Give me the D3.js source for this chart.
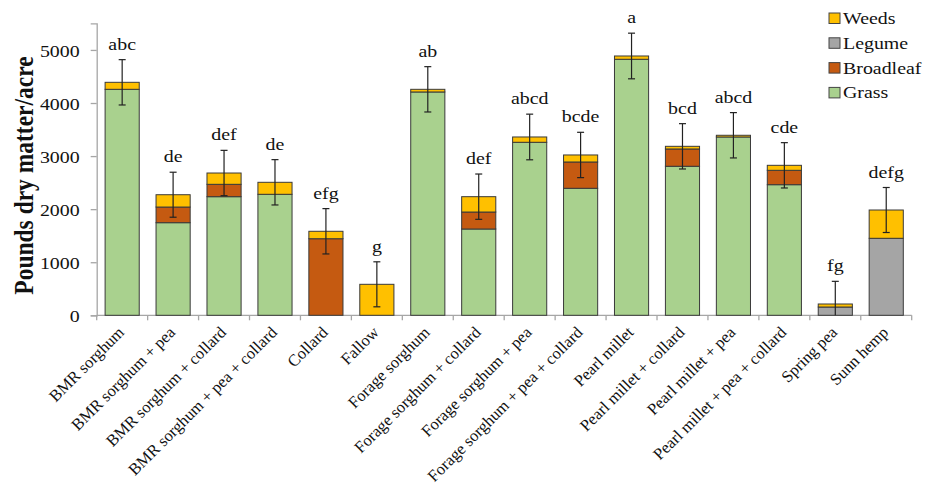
<!DOCTYPE html>
<html>
<head>
<meta charset="utf-8">
<script src="https://cdn.jsdelivr.net/npm/d3@7"></script>
<style>
  html, body { margin: 0; padding: 0; background: #fff; }
  svg { display: block; }
</style>
</head>
<body>
<svg id="chart" width="926" height="487"></svg>
<script>
// Cover-crop treatments
const categories = [
  "BMR sorghum", "BMR sorghum + pea", "BMR sorghum + collard", "BMR sorghum + pea + collard",
  "Collard", "Fallow", "Forage sorghum", "Forage sorghum + collard",
  "Forage sorghum + pea", "Forage sorghum + pea + collard", "Pearl millet", "Pearl millet + collard",
  "Pearl millet + pea", "Pearl millet + pea + collard", "Spring pea", "Sunn hemp"
];
// Dry matter by component (lb/acre)
const grass     = [4258, 1745, 2235, 2280,    0,   0, 4208, 1626, 3260, 2393, 4824, 2808, 3360, 2461,   0,    0];
const broadleaf = [   0,  295,  233,    0, 1443,   0,    0,  320,    0,  496,    0,  326,    0,  271,   0,    0];
const legume    = [   0,    0,    0,    0,    0,   0,    0,    0,    0,    0,    0,    0,    0,    0, 156, 1451];
const weeds     = [ 132,  232,  213,  226,  140, 584,   50,  289,  100,  132,   62,   50,   32,   94,  57,  533];
// Standard error of total dry matter
const errors    = [ 427,  424,  427,  427,  427, 424,  427,  427,  430,  427,  430,  427,  427,  427, 427,  424];
// Mean separation letters
const letters   = ["abc", "de", "def", "de", "efg", "g", "ab", "def", "abcd", "bcde", "a", "bcd", "abcd", "cde", "fg", "defg"];
const yTicks    = [0, 1000, 2000, 3000, 4000, 5000];

const seriesNames  = ["Grass", "Broadleaf", "Legume", "Weeds"];
const seriesColors = ["#a9d18e", "#c55a11", "#a5a5a5", "#ffc000"];
const seriesValues = [grass, broadleaf, legume, weeds];

const FONT = '"Liberation Serif", Tinos, "Times New Roman", Times, "Nimbus Roman", "DejaVu Serif", serif';

const svg = d3.select("#chart");
const W = 926, H = 487;
const margin = { left: 96.7, right: 14.3, top: 23.4, bottom: 171.7 };
const plotBottom = H - margin.bottom;
const HS = 1.17; // horizontal glyph stretch

const x = d3.scaleBand().domain(categories)
  .range([margin.left, W - margin.right])
  .paddingInner(0.33).paddingOuter(0.165);
const y = d3.scaleLinear().domain([0, 5500]).range([plotBottom, margin.top]);

// stacked rows
const rows = categories.map((c, i) => {
  const r = { cat: c };
  seriesNames.forEach((s, k) => r[s] = seriesValues[k][i]);
  return r;
});
const stack = d3.stack().keys(seriesNames)(rows);

function label(sel) {
  return sel.attr("font-family", FONT).attr("fill", "#111").style("font-family", FONT);
}

// axes
const axisColor = "#a6a6a6";
const yAxis = svg.append("g").attr("transform", `translate(${margin.left},0)`)
  .call(d3.axisLeft(y).tickValues(yTicks).tickSize(6).tickPadding(4).tickFormat(d3.format("d")));
yAxis.select(".domain").attr("stroke", axisColor).attr("stroke-width", 1.3);
yAxis.selectAll(".tick line").attr("stroke", axisColor).attr("stroke-width", 1.3);
yAxis.selectAll(".tick text").remove();
yAxis.selectAll(".tick").append("text")
  .call(label)
  .attr("transform", `translate(-17,0) scale(${HS},1)`)
  .attr("text-anchor", "end").attr("dy", "0.36em")
  .attr("font-size", 17).text(d => d);

// x axis line and boundary ticks
const step = x.step();
const xStart = x.range()[0];
svg.append("line").attr("x1", xStart).attr("x2", x.range()[1])
  .attr("y1", plotBottom).attr("y2", plotBottom)
  .attr("stroke", axisColor).attr("stroke-width", 1.3);
svg.append("g").selectAll("line").data(d3.range(categories.length + 1)).join("line")
  .attr("x1", i => xStart + i * step).attr("x2", i => xStart + i * step)
  .attr("y1", plotBottom).attr("y2", plotBottom + 5)
  .attr("stroke", axisColor).attr("stroke-width", 1.3);

// bars
svg.append("g").selectAll("g").data(stack).join("g")
  .attr("fill", (d, k) => seriesColors[k])
  .selectAll("rect").data(d => d.filter(p => p[1] - p[0] > 0)).join("rect")
  .attr("x", p => x(p.data.cat))
  .attr("width", x.bandwidth())
  .attr("y", p => y(p[1]))
  .attr("height", p => y(p[0]) - y(p[1]))
  .attr("stroke", "#3a3a3a").attr("stroke-width", 1);

// totals, error bars and letters
const totals = categories.map((c, i) => grass[i] + broadleaf[i] + legume[i] + weeds[i]);
const eg = svg.append("g").attr("stroke", "#222").attr("stroke-width", 1.2);
categories.forEach((c, i) => {
  const cx = x(c) + x.bandwidth() / 2;
  const hi = totals[i] + errors[i];
  const lo = Math.max(0, totals[i] - errors[i]);
  eg.append("line").attr("x1", cx).attr("x2", cx).attr("y1", y(hi)).attr("y2", y(lo));
  eg.append("line").attr("x1", cx - 3.5).attr("x2", cx + 3.5).attr("y1", y(hi)).attr("y2", y(hi));
  if (totals[i] - errors[i] > 0)
    eg.append("line").attr("x1", cx - 3.5).attr("x2", cx + 3.5).attr("y1", y(lo)).attr("y2", y(lo));
  svg.append("text").call(label)
    .attr("transform", `translate(${cx},${y(hi) - 10}) scale(${HS},1)`)
    .attr("text-anchor", "middle").attr("font-size", 17).text(letters[i]);
});

// category labels
svg.append("g").selectAll("text").data(categories).join("text")
  .call(label)
  .attr("transform", c => `translate(${x(c) + x.bandwidth() / 2 + 3},${plotBottom + 18}) rotate(-45)`)
  .attr("text-anchor", "end").attr("font-size", 16.5).text(c => c);

// y axis title
svg.append("text").call(label)
  .attr("transform", `translate(33,175.5) scale(${HS},1) rotate(-90)`)
  .attr("text-anchor", "middle").attr("font-size", 23.5).attr("font-weight", "bold")
  .text("Pounds dry matter/acre");

// legend (top-down: Weeds, Legume, Broadleaf, Grass)
const legendItems = seriesNames.map((n, k) => ({ n, c: seriesColors[k] })).reverse();
const lg = svg.append("g").attr("transform", "translate(829,13)");
const li = lg.selectAll("g").data(legendItems).join("g")
  .attr("transform", (d, i) => `translate(0,${i * 24.8})`);
li.append("rect").attr("width", 11).attr("height", 10.5)
  .attr("fill", d => d.c).attr("stroke", "#444").attr("stroke-width", 1);
li.append("text").call(label).attr("transform", `translate(14,11) scale(${HS},1)`)
  .attr("font-size", 17).text(d => d.n);
</script>
</body>
</html>
